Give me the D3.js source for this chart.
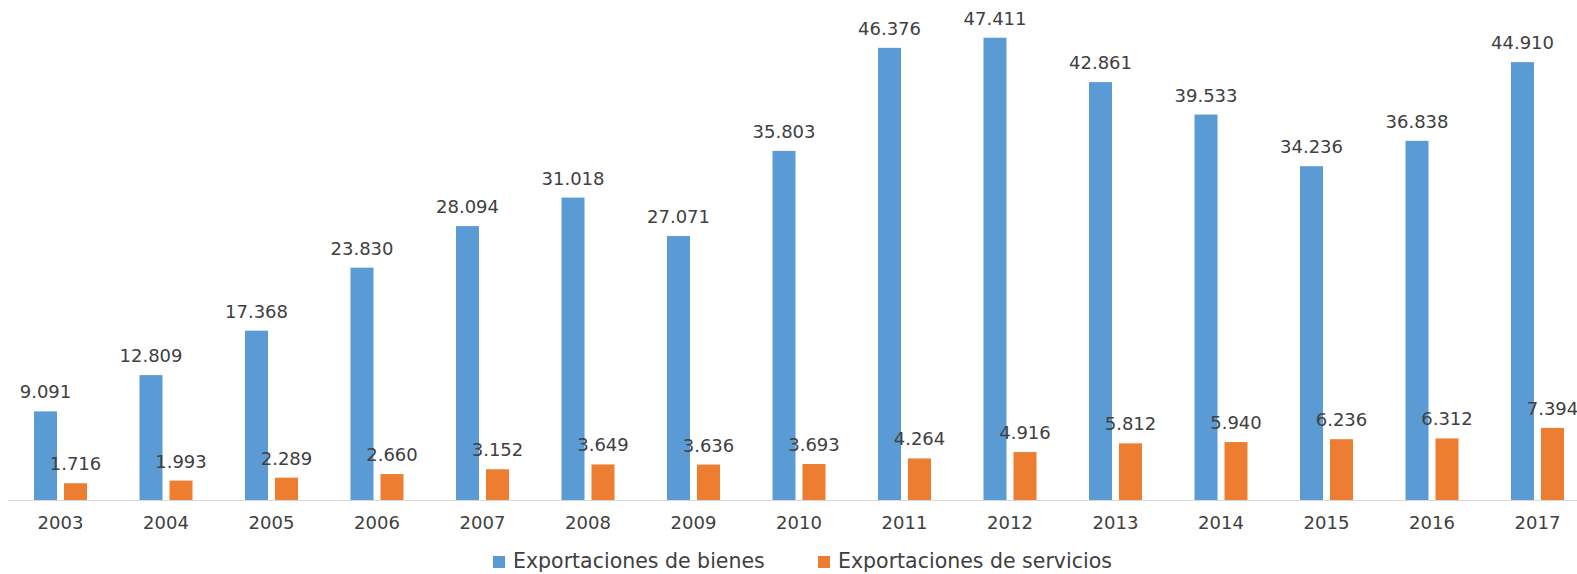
<!DOCTYPE html>
<html>
<head>
<meta charset="utf-8">
<script src="https://cdn.jsdelivr.net/npm/d3@7"></script>
<style>
  html, body { margin: 0; padding: 0; background: #fff; overflow: hidden; }
  svg { display: block; }
  text { font-family: "DejaVu Sans", sans-serif; fill: #404040; }
</style>
</head>
<body>
<svg id="chart" width="1577" height="574"></svg>
<script>
const years = ["2003","2004","2005","2006","2007","2008","2009","2010","2011","2012","2013","2014","2015","2016","2017"];
const bienes = [9091, 12809, 17368, 23830, 28094, 31018, 27071, 35803, 46376, 47411, 42861, 39533, 34236, 36838, 44910];
const servicios = [1716, 1993, 2289, 2660, 3152, 3649, 3636, 3693, 4264, 4916, 5812, 5940, 6236, 6312, 7394];
const seriesNames = ["Exportaciones de bienes", "Exportaciones de servicios"];
const seriesColors = ["#5b9bd5", "#ed7d31"];

const svg = d3.select("#chart");
const baseY = 500;

const x0 = d3.scaleBand().domain(years).range([7.75, 1590.25]).paddingInner(0.4976).paddingOuter(0.2488);
const x1 = d3.scaleBand().domain(seriesNames).range([0, x0.bandwidth()]).paddingInner(7/30);
const y = d3.scaleLinear().domain([0, 50000]).range([baseY, 12.5]);

const loc = d3.formatLocale({decimal: ",", thousands: ".", grouping: [3], currency: ["", ""]});
const fmt = loc.format(",d");

const data = years.map((yr, i) => ({year: yr, values: [bienes[i], servicios[i]]}));

const groups = svg.append("g").selectAll("g").data(data).join("g")
  .attr("transform", d => `translate(${x0(d.year)},0)`);

groups.selectAll("rect").data(d => d.values.map((v, j) => ({v, j})))
  .join("rect")
  .attr("x", d => x1(seriesNames[d.j]))
  .attr("width", x1.bandwidth())
  .attr("y", d => y(d.v))
  .attr("height", d => baseY - y(d.v))
  .attr("fill", d => seriesColors[d.j]);

groups.selectAll("text.lbl").data(d => d.values.map((v, j) => ({v, j})))
  .join("text")
  .attr("class", "lbl")
  .attr("x", d => x1(seriesNames[d.j]) + x1.bandwidth() / 2)
  .attr("y", d => y(d.v) - 13)
  .attr("text-anchor", "middle")
  .style("font-size", "18px")
  .text(d => fmt(d.v));

// x axis
const xAxis = d3.axisBottom(x0).tickSize(0).tickPadding(0);
const ax = svg.append("g").attr("transform", `translate(0,${baseY})`).call(xAxis);
ax.select(".domain").remove();
ax.selectAll("text").attr("dy", null).attr("y", 29).style("font-size", "18px")
  .style("font-family", "DejaVu Sans, sans-serif").attr("fill", "#404040");
svg.append("line").attr("x1", 8).attr("x2", 1577).attr("y1", baseY + 0.5).attr("y2", baseY + 0.5)
  .attr("stroke", "#d9d9d9").attr("stroke-width", 1);

// legend
const legendX = [493, 818];
const lg = svg.append("g").selectAll("g").data(seriesNames).join("g")
  .attr("transform", (d, i) => `translate(${legendX[i]},0)`);
lg.append("rect").attr("x", 0).attr("y", 556).attr("width", 12).attr("height", 12)
  .attr("fill", (d, i) => seriesColors[i]);
lg.append("text").attr("x", 20).attr("y", 568).style("font-size", "20.5px").text(d => d);
</script>
</body>
</html>
